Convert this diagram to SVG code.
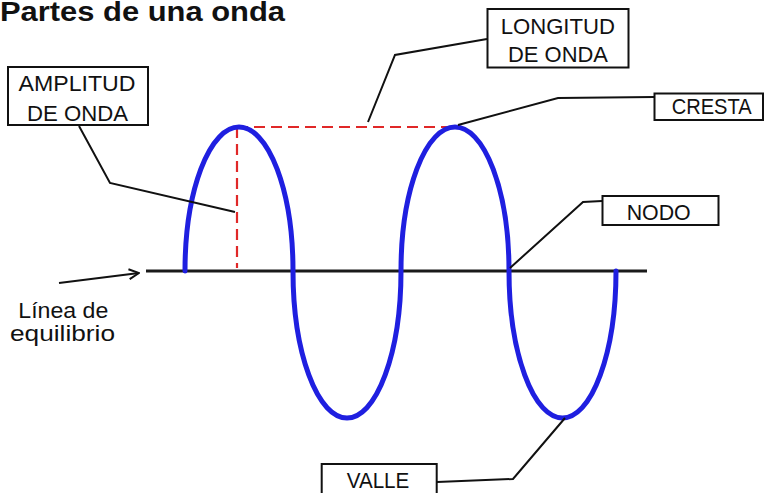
<svg xmlns="http://www.w3.org/2000/svg" width="765" height="493" viewBox="0 0 765 493">
  <defs>
    <style>
      .box { fill: #fff; stroke: #111; stroke-width: 2; }
      .lbl { font-family: "Liberation Sans", Arial, sans-serif; font-size: 22px; fill: #111; }
      .conn { fill: none; stroke: #111; stroke-width: 2; }
      .dash { fill: none; stroke: #e02828; stroke-width: 2.2; stroke-dasharray: 11 6; }
    </style>
    <marker id="openArrow" viewBox="0 0 12 12" refX="11" refY="6" markerWidth="12" markerHeight="12" markerUnits="userSpaceOnUse" orient="auto">
      <path d="M1,1 L11,6 L1,11" fill="none" stroke="#111" stroke-width="2"/>
    </marker>
  </defs>
  <rect width="765" height="493" fill="#fff"/>

  <text id="title" x="0" y="21" font-family="'Liberation Sans', Arial, sans-serif" font-weight="bold" font-size="27" fill="#111" textLength="285" lengthAdjust="spacingAndGlyphs">Partes de una onda</text>

  <g id="axis">
    <line x1="146" y1="271" x2="647" y2="271" stroke="#1a1a1a" stroke-width="3"/>
  </g>

  <g id="guides">
    <path class="dash" d="M237,127 L237,268"/>
    <path class="dash" d="M237,127 L452,127"/>
  </g>

  <g id="wave">
    <path d="M185,271 A54,144 0 0 1 293,271 A54,147 0 0 0 401,271 A54,144 0 0 1 509,271 A53.5,147 0 0 0 616,271" fill="none" stroke="#1f1fe0" stroke-width="5" stroke-linecap="round"/>
  </g>

  <g id="connectors">
    <polyline class="conn" points="79,126 110,183 235,212"/>
    <polyline class="conn" points="487,39 395,55 368,122"/>
    <polyline class="conn" points="654,97 558,98 458,125"/>
    <polyline class="conn" points="602,201 583,202 510,268"/>
    <polyline class="conn" points="437,482 513,479 565,418"/>
    <line class="conn" x1="59" y1="283" x2="139" y2="273" marker-end="url(#openArrow)"/>
  </g>

  <g id="amplitud">
    <rect class="box" x="8" y="67" width="140" height="58"/>
    <text class="lbl" x="18.5" y="91" textLength="117" lengthAdjust="spacingAndGlyphs">AMPLITUD</text>
    <text class="lbl" x="27" y="121" textLength="101" lengthAdjust="spacingAndGlyphs">DE ONDA</text>
  </g>

  <g id="longitud">
    <rect class="box" x="487.5" y="9" width="141" height="58.5"/>
    <text class="lbl" x="500.7" y="33.5" textLength="114.3" lengthAdjust="spacingAndGlyphs">LONGITUD</text>
    <text class="lbl" x="508" y="61.7" textLength="100" lengthAdjust="spacingAndGlyphs">DE ONDA</text>
  </g>

  <g id="cresta">
    <rect class="box" x="654.5" y="93.5" width="108.5" height="26.5"/>
    <text class="lbl" x="671.7" y="113.5" textLength="80" lengthAdjust="spacingAndGlyphs">CRESTA</text>
  </g>

  <g id="nodo">
    <rect class="box" x="602.5" y="196" width="116" height="29"/>
    <text class="lbl" x="626.7" y="219.5" textLength="64" lengthAdjust="spacingAndGlyphs">NODO</text>
  </g>

  <g id="valle">
    <rect class="box" x="321.7" y="464" width="115" height="34"/>
    <text class="lbl" x="346.7" y="487.5" textLength="62.6" lengthAdjust="spacingAndGlyphs">VALLE</text>
  </g>

  <g id="equilibrio">
    <text class="lbl" x="18.3" y="317.5" font-size="21" textLength="90" lengthAdjust="spacingAndGlyphs">Línea de</text>
    <text class="lbl" x="10" y="340.5" font-size="21" textLength="105" lengthAdjust="spacingAndGlyphs">equilibrio</text>
  </g>
</svg>
